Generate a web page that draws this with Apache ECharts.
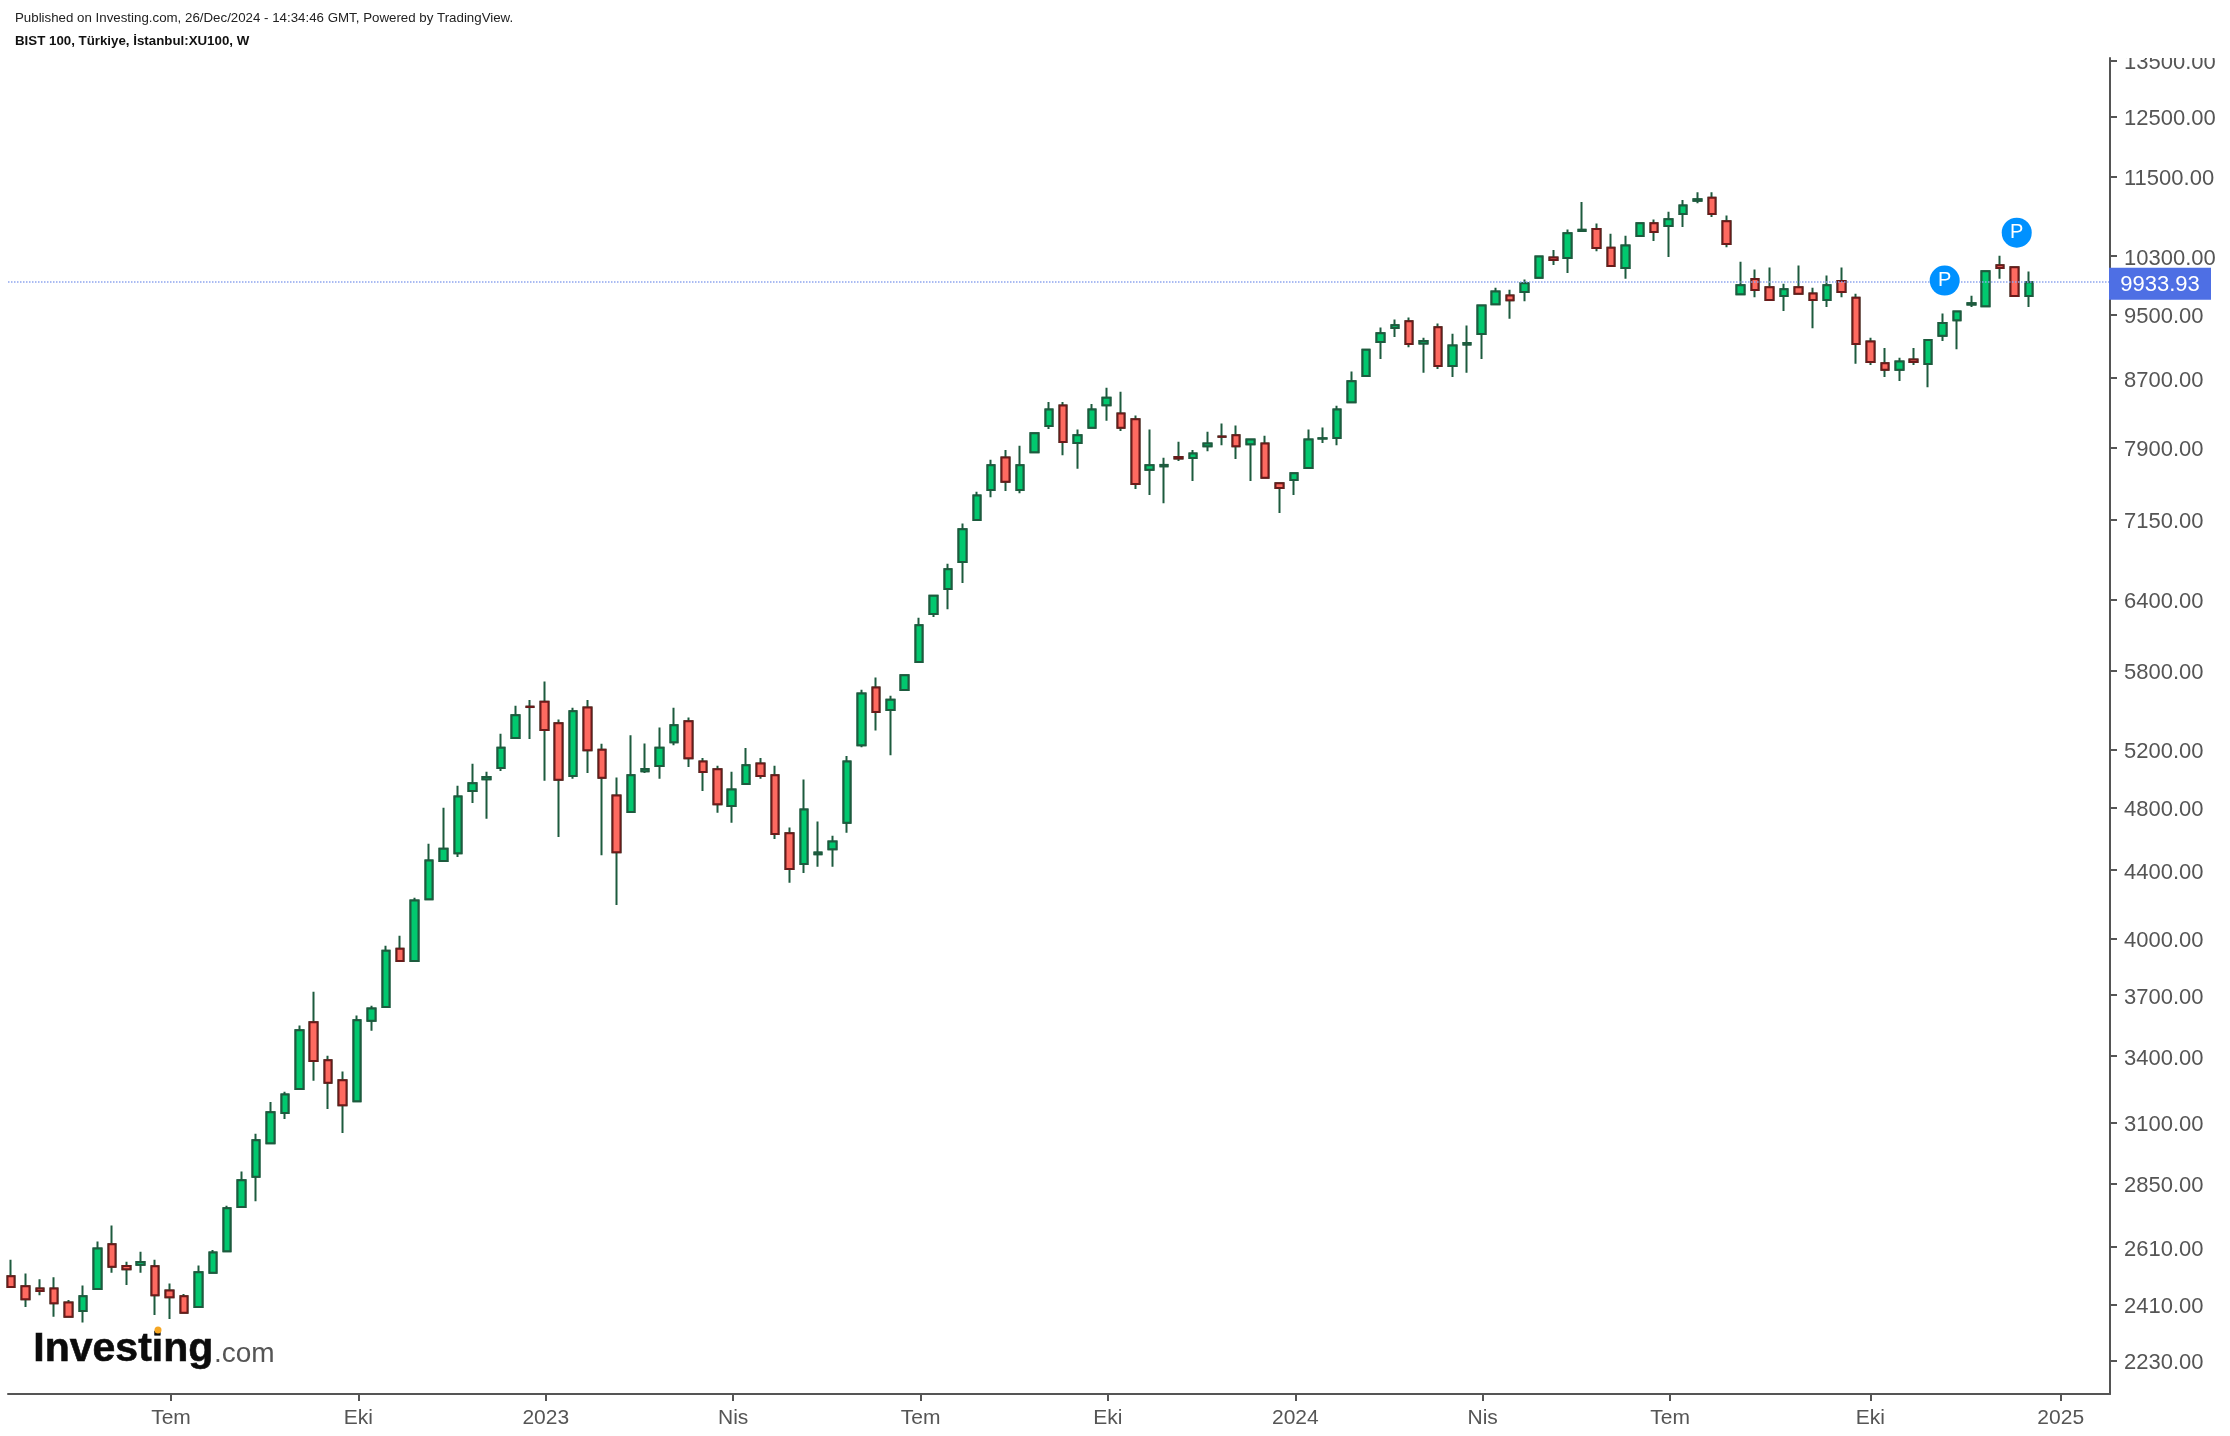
<!DOCTYPE html>
<html>
<head>
<meta charset="utf-8">
<style>
html,body{margin:0;padding:0;background:#fff}
#chart{width:2230px;height:1436px}
</style>
<script src="https://cdn.jsdelivr.net/npm/echarts@6/dist/echarts.min.js"></script>
</head>
<body>
<div id="chart"></div>
<script>
// weekly BIST 100 candles
const opens = [2507,2472,2465,2465,2417,2389,2463,2620,2543,2547,2542,2458,2438,2402,2519,2595,2759,2877,3014,3143,
  3249,3564,3381,3289,3194,3571,3640,3946,3880,4226,4456,4504,4909,4990,5069,5283,5518,5556,5392,5013,
  5512,5198,4879,4769,5046,5083,5253,5407,5115,5059,4808,4957,5101,5018,4631,4438,4498,4529,4698,5231,
  5667,5492,5646,5870,6274,6494,6742,7147,7449,7793,7449,7850,8141,8374,7950,8119,8378,8283,8216,7660,
  7698,7797,7787,7916,8022,8035,7938,7945,7519,7554,7681,7999,8006,8412,8725,9144,9325,9411,9126,9333,
  8846,9113,9247,9636,9752,9799,9994,10280,10272,10666,10693,10421,10133,10590,10779,10740,10919,11122,11166,10811,
  9771,9978,9866,9747,9866,9780,9692,9949,9724,9152,8878,8798,8926,8871,9223,9424,9631,9610,10169,10141,9747];
const closes = [2470,2428,2456,2415,2370,2438,2605,2540,2531,2557,2442,2435,2383,2521,2591,2754,2863,3026,3146,3224,
  3525,3378,3277,3177,3574,3633,3935,3880,4218,4459,4532,4872,4962,5006,5213,5452,5515,5343,4986,5482,
  5194,5000,4510,5018,5062,5213,5377,5138,5041,4821,4920,5087,5013,4626,4407,4786,4508,4578,5115,5619,
  5477,5571,5763,6176,6435,6674,7055,7392,7709,7534,7709,8058,8329,7961,8035,8329,8466,8119,7512,7709,
  7713,7782,7835,7945,8019,7916,7990,7576,7471,7624,7990,8002,8329,8660,9048,9255,9359,9118,9157,8846,
  9100,9131,9618,9808,9688,9919,10294,10243,10630,10681,10415,10160,10451,10779,10651,10838,11047,11142,10919,10473,
  9891,9827,9692,9837,9775,9692,9893,9799,9118,8895,8798,8902,8895,9170,9389,9540,9649,10087,10133,9747,9933.93];
const lows = [2470,2402,2442,2370,2370,2351,2463,2519,2477,2519,2376,2363,2383,2402,2519,2595,2759,2781,3014,3117,
  3249,3286,3160,3057,3194,3522,3640,3880,3880,4226,4456,4480,4828,4724,5048,5283,5276,4979,4607,4993,
  5034,4492,4192,4769,5034,4993,5231,5076,4909,4763,4698,4957,4993,4594,4323,4383,4420,4420,4633,5216,
  5339,5159,5646,5870,6248,6316,6549,7147,7375,7439,7417,7850,8107,7818,7671,8119,8198,8085,7460,7397,
  7315,7755,7544,7860,7927,7776,7544,7576,7216,7397,7681,7950,7927,8412,8725,8931,9208,9079,8762,8810,
  8713,8762,8931,9636,9442,9675,9994,10173,10063,10660,10369,10160,9980,10590,10516,10286,10725,11083,10874,10428,
  9771,9730,9692,9546,9775,9320,9597,9730,8872,8858,8712,8664,8858,8590,9157,9053,9597,9610,9980,9747,9597];
const highs = [2565,2516,2496,2503,2426,2475,2630,2689,2558,2593,2565,2482,2446,2544,2600,2764,2898,3054,3191,3237,
  3548,3718,3402,3329,3597,3646,3962,4018,4234,4563,4797,4946,5099,5043,5315,5524,5569,5713,5420,5509,
  5569,5241,5002,5303,5244,5360,5509,5435,5140,5085,5043,5211,5140,5085,4667,4988,4706,4615,5154,5649,
  5745,5601,5770,6242,6440,6726,7111,7431,7769,7874,7919,8065,8415,8415,8100,8393,8583,8535,8258,8100,
  7790,7964,7874,8075,8167,8145,8000,8032,7530,7630,8100,8122,8370,8777,9060,9329,9433,9459,9199,9381,
  9251,9355,9630,9859,9831,9970,10310,10387,10685,11102,10774,10625,10595,10790,10834,10953,11132,11251,11251,10894,
  10220,10109,10137,9914,10165,9859,10026,10137,9775,9199,9070,8947,9070,9180,9511,9550,9748,10100,10304,10150,10082];

const priceTicks = [13500,12500,11500,10300,9500,8700,7900,7150,6400,5800,5200,4800,4400,4000,3700,3400,3100,2850,2610,2410,2230];
const timeTickPos = [11.1,24.1,37.1,50.1,63.1,76.1,89.1,102.1,115.1,129,142.2];
const timeTickNames = ['Tem','Eki','2023','Nis','Tem','Eki','2024','Nis','Tem','Eki','2025'];
const lastPrice = 9933.93;
const pinWeek = [134.15,139.15];
const pinPrice = [9956,10640];

const font = '"Liberation Sans", Arial, sans-serif';
const green = '#02c86f', greenDark = '#1d5b3e', red = '#fe6a60', redDark = '#6b1a1a';
const xMax = 145.62;

const wicks = opens.map((o,i)=>[i,o,closes[i],lows[i],highs[i]]);
const bodies = opens.map((o,i)=>[i,o,closes[i],Math.min(o,closes[i]),Math.max(o,closes[i])]);

const pins = pinWeek.map((w,i)=>({coord:[w,pinPrice[i]]}));
// last price box sits just right of the axis
pins.push({
  coord:[xMax,lastPrice],symbol:'rect',symbolSize:[102,32],symbolOffset:[50,1.5],
  itemStyle:{color:'#4e6fe4'},
  label:{formatter:String(lastPrice),fontSize:22,offset:[0,1]}
});

const chart = echarts.init(document.getElementById('chart'));
chart.setOption({
  animation:false,
  backgroundColor:'#fff',
  title:[
    {text:'Published on Investing.com, 26/Dec/2024 - 14:34:46 GMT, Powered by TradingView.',left:10,top:7,
      textStyle:{fontFamily:font,fontSize:13.3,fontWeight:'normal',color:'#222'}},
    {text:'BIST 100, Türkiye, İstanbul:XU100, W',left:10,top:30,
      textStyle:{fontFamily:font,fontSize:13.3,fontWeight:'bold',color:'#111'}}
  ],
  grid:{left:8,top:58,width:2102,height:1336},
  xAxis:{
    type:'value',min:-0.208,max:xMax,
    splitLine:{show:false},
    axisLine:{lineStyle:{color:'#555',width:2}},
    axisTick:{length:7,lineStyle:{color:'#555',width:2},customValues:timeTickPos},
    axisLabel:{
      customValues:timeTickPos,margin:14,color:'#555',fontFamily:font,fontSize:21,
      formatter:function(v){return timeTickNames[timeTickPos.indexOf(v)]}
    }
  },
  yAxis:{
    type:'log',position:'right',min:2129.5,max:13552,
    splitLine:{show:false},
    axisLine:{show:true,onZero:false,lineStyle:{color:'#555',width:2}},
    axisTick:{show:true,length:7,lineStyle:{color:'#555',width:2},customValues:priceTicks},
    axisLabel:{
      customValues:priceTicks,margin:14,color:'#555',fontFamily:font,fontSize:22,
      verticalAlign:'top',lineHeight:5,
      formatter:function(v){return v.toFixed(2)}
    }
  },
  series:[
    {
      type:'candlestick',barWidth:8,
      encode:{x:0,y:[1,2,3,4]},
      itemStyle:{color:green,color0:green,borderColor:greenDark,borderColor0:greenDark,borderColorDoji:greenDark,borderWidth:2},
      data:wicks,
      markLine:{
        silent:true,symbol:'none',
        lineStyle:{color:'#8ea5ee',type:'dotted',width:1.5},
        label:{show:false},
        data:[{yAxis:lastPrice}]
      }
    },
    {
      type:'candlestick',barWidth:8,
      encode:{x:0,y:[1,2,3,4]},
      itemStyle:{color:green,color0:red,borderColor:greenDark,borderColor0:redDark,borderColorDoji:greenDark,borderWidth:2},
      data:bodies,
      markPoint:{
        silent:true,symbol:'circle',symbolSize:30,
        itemStyle:{color:'#0091ff'},
        label:{show:true,position:'inside',formatter:'P',color:'#fff',fontFamily:font,fontSize:20},
        data:pins
      }
    }
  ],
  graphic:[
    {type:'rect',z:100,shape:{x:2113,y:0,width:117,height:58},style:{fill:'#fff'}},
    {type:'text',z:100,left:33,top:1329,style:{text:'Investing',font:'bold 41px '+font,fill:'#0b0b0b',stroke:'#0b0b0b',lineWidth:0.6}},
    {type:'text',z:100,left:214,top:1340,style:{text:'.com',font:'28px '+font,fill:'#555'}},
    {type:'circle',z:101,shape:{cx:158,cy:1330,r:3.5},style:{fill:'#f5a623'}}
  ]
});
</script>
</body>
</html>
